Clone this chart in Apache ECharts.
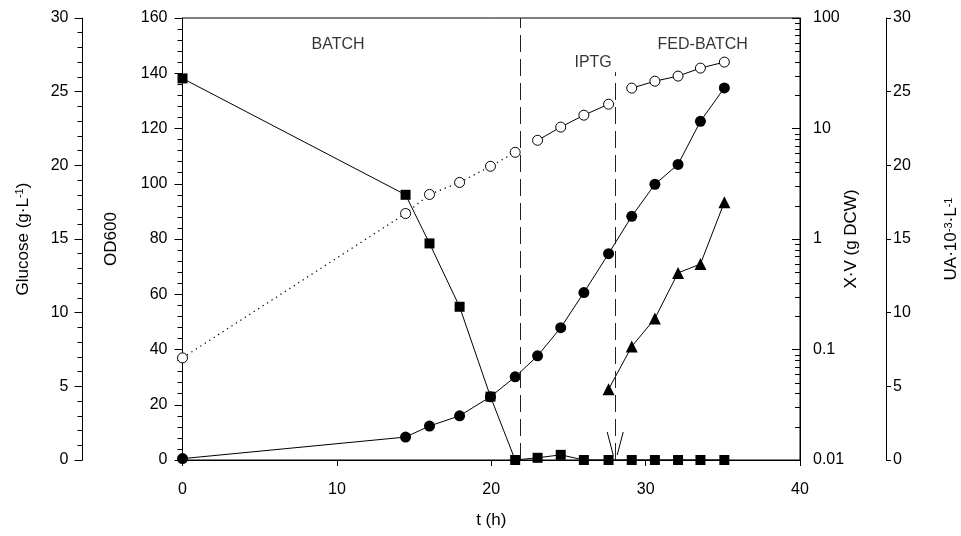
<!DOCTYPE html>
<html>
<head>
<meta charset="utf-8">
<script src="https://cdn.jsdelivr.net/npm/echarts@6/dist/echarts.min.js"></script>
<style>
  html, body { margin: 0; padding: 0; background: #fff; overflow: hidden; }
  #chart { width: 961px; height: 536px; }
</style>
</head>
<body>
<div id="chart"></div>
<script>
// Sampling times (h)
const time = [0, 14.45, 16.0, 17.95, 19.95, 21.55, 23.0, 24.5, 26.0, 27.6, 29.1, 30.6, 32.1, 33.55, 35.1];
// Residual glucose (g/L)
const glucose = [25.9, 18.0, 14.7, 10.4, 4.3, 0, 0.15, 0.35, 0, 0, 0, 0, 0, 0, 0];
// Optical density at 600 nm
const od600 = [0.5, 8.3, 12.3, 16.0, 22.9, 30.1, 37.7, 47.9, 60.6, 74.7, 88.2, 99.8, 107.0, 122.6, 134.7];
// Total biomass X·V (g DCW), log scale
const biomass = [0.084, 1.70, 2.53, 3.25, 4.55, 6.09, 7.82, 10.3, 13.2, 16.6, 23.2, 26.8, 29.8, 35.2, 39.9];
// Enzyme activity after induction (UA·10^-3·L^-1)
const uaTime = [27.6, 29.1, 30.6, 32.1, 33.55, 35.1];
const activity = [4.8, 7.7, 9.6, 12.7, 13.3, 17.5];
// Process events (h)
const batchEnd = 21.87;
const iptgTime = 28.03;
// Axis tick values
const xTicks = { min: 0, max: 40, step: 10 };
const odTicks = { min: 0, max: 160, step: 20 };
const glcTicks = { min: 0, max: 30, step: 5 };
const uaTicks = { min: 0, max: 30, step: 5 };
const logRange = { min: 0.01, max: 100 };

const FONT = '"Liberation Sans", Arial, Helvetica, sans-serif';
const BLACK = '#000';

const pairs = (xs, ys) => xs.map((x, i) => [x, ys[i]]);
const bio = pairs(time, biomass);
// biomass curve drawn in three pieces: dotted batch phase, then two solid fed-batch segments
const bioBatch = bio.slice(0, 6);
const bioFed1 = bio.slice(6, 10);
const bioFed2 = bio.slice(10);

// minor ticks 2..9 within each decade of the log axis
const logMinor = [];
for (let d = logRange.min; d < logRange.max * 0.999; d *= 10) {
  for (let k = 2; k <= 9; k++) logMinor.push([xTicks.max, +(d * k).toPrecision(3)]);
}

const labelStyle = { color: BLACK, fontSize: 16, fontFamily: FONT };
const nameStyle = {
  color: BLACK, fontSize: 17, fontFamily: FONT,
  rich: { sup: { fontSize: 11, verticalAlign: 'top', lineHeight: 10, fontFamily: FONT, color: BLACK } }
};
const axisLine = { show: true, onZero: false, lineStyle: { color: BLACK, width: 1 } };
const minorTick = { show: true, splitNumber: 5, length: 5, lineStyle: { color: BLACK, width: 1 } };

function linearY(ticks, extra) {
  return Object.assign({
    type: 'value',
    min: ticks.min, max: ticks.max, interval: ticks.step,
    nameLocation: 'middle', nameRotate: 90, nameTextStyle: nameStyle, nameMoveOverlap: false,
    axisLine: axisLine,
    axisTick: { show: true, inside: false, length: 8, lineStyle: { color: BLACK, width: 1 } },
    axisLabel: Object.assign({ margin: 14 }, labelStyle),
    splitLine: { show: false }
  }, extra);
}

const chart = echarts.init(document.getElementById('chart'), null, { renderer: 'canvas', width: 961, height: 536 });

chart.setOption({
  animation: false,
  backgroundColor: '#fff',
  textStyle: { fontFamily: FONT },
  grid: {
    left: 182.5, right: 161, top: 18, bottom: 76,
    show: true, borderColor: BLACK, borderWidth: 1,
    containLabel: false, outerBoundsMode: 'none'
  },
  xAxis: {
    type: 'value', min: xTicks.min, max: xTicks.max, interval: xTicks.step,
    name: 't (h)', nameLocation: 'middle', nameGap: 52, nameTextStyle: nameStyle, nameMoveOverlap: false,
    axisLine: axisLine,
    axisTick: { show: true, inside: false, length: 6, lineStyle: { color: BLACK } },
    axisLabel: Object.assign({ margin: 22 }, labelStyle),
    splitLine: { show: false }
  },
  yAxis: [
    linearY(odTicks, {
      name: 'OD600', position: 'left', offset: 0, nameGap: 63,
      minorTick: minorTick,
      axisLabel: Object.assign({ margin: 15 }, labelStyle)
    }),
    linearY(glcTicks, {
      name: 'Glucose (g·L{sup|-1})', position: 'left', offset: 100, nameGap: 51,
      minorTick: minorTick
    }),
    {
      type: 'log', logBase: 10, min: logRange.min, max: logRange.max,
      position: 'right', offset: 0,
      name: 'X·V (g DCW)', nameLocation: 'middle', nameRotate: 90, nameGap: 43, nameTextStyle: nameStyle, nameMoveOverlap: false,
      axisLine: axisLine,
      axisTick: { show: true, inside: true, length: 8, lineStyle: { color: BLACK, width: 1 } },
      axisLabel: Object.assign({ margin: 13, formatter: v => String(+v.toPrecision(3)) }, labelStyle),
      splitLine: { show: false }
    },
    linearY(uaTicks, {
      name: 'UA·10{sup|-3}·L{sup|-1}', position: 'right', offset: 86, nameGap: 57,
      axisTick: { show: true, inside: false, length: 5, lineStyle: { color: BLACK } },
      axisLabel: Object.assign({ margin: 7 }, labelStyle)
    })
  ],
  series: [
    {
      name: 'X·V batch', type: 'line', yAxisIndex: 2, data: bioBatch,
      symbol: 'circle', symbolSize: 10,
      itemStyle: { color: '#fff', borderColor: BLACK, borderWidth: 1 },
      lineStyle: { color: BLACK, width: 1.2, type: [1.3, 4] }, z: 3
    },
    {
      name: 'X·V fed-batch', type: 'line', yAxisIndex: 2, data: bioFed1,
      symbol: 'circle', symbolSize: 10,
      itemStyle: { color: '#fff', borderColor: BLACK, borderWidth: 1 },
      lineStyle: { color: BLACK, width: 1 }, z: 3
    },
    {
      name: 'X·V induced', type: 'line', yAxisIndex: 2, data: bioFed2,
      symbol: 'circle', symbolSize: 10,
      itemStyle: { color: '#fff', borderColor: BLACK, borderWidth: 1 },
      lineStyle: { color: BLACK, width: 1 }, z: 3
    },
    {
      name: 'OD600', type: 'line', yAxisIndex: 0, data: pairs(time, od600),
      symbol: 'circle', symbolSize: 11,
      itemStyle: { color: BLACK }, lineStyle: { color: BLACK, width: 1 }, z: 4,
      markLine: {
        silent: true, symbol: 'none', label: { show: false },
        lineStyle: { color: '#222', width: 1, type: [17, 7] },
        data: [
          [{ coord: [batchEnd, odTicks.min] }, { coord: [batchEnd, odTicks.max] }],
          [{ coord: [iptgTime, odTicks.min] }, { coord: [iptgTime, 140.4] }]
        ]
      }
    },
    {
      name: 'UA', type: 'line', yAxisIndex: 3, data: pairs(uaTime, activity),
      symbol: 'triangle', symbolSize: 12,
      itemStyle: { color: BLACK }, lineStyle: { color: BLACK, width: 1 }, z: 4
    },
    {
      name: 'Glucose', type: 'line', yAxisIndex: 1, data: pairs(time, glucose),
      symbol: 'rect', symbolSize: 10,
      itemStyle: { color: BLACK }, lineStyle: { color: BLACK, width: 1 }, z: 5
    },
    {
      // minor ticks of the logarithmic X·V axis
      name: 'log minor ticks', type: 'custom', yAxisIndex: 2, data: logMinor, clip: false, silent: true, z: 6,
      renderItem: (params, api) => {
        const p = api.coord([api.value(0), api.value(1)]);
        const y = Math.round(p[1]) + 0.5;
        return { type: 'line', shape: { x1: p[0], y1: y, x2: p[0] - 5, y2: y }, style: { stroke: BLACK, lineWidth: 1 } };
      }
    },
    {
      // open arrowhead marking the IPTG addition
      name: 'IPTG arrow', type: 'custom', yAxisIndex: 0, data: [[iptgTime, 0]], clip: false, silent: true, z: 6,
      renderItem: (params, api) => {
        const p = api.coord([api.value(0), api.value(1)]);
        return {
          type: 'group',
          children: [
            { type: 'line', shape: { x1: p[0] - 8, y1: p[1] - 28, x2: p[0] - 2, y2: p[1] - 5 }, style: { stroke: BLACK, lineWidth: 1 } },
            { type: 'line', shape: { x1: p[0] + 8, y1: p[1] - 28, x2: p[0] + 2, y2: p[1] - 5 }, style: { stroke: BLACK, lineWidth: 1 } }
          ]
        };
      }
    },
    {
      // phase annotations
      name: 'phases', type: 'scatter', yAxisIndex: 0, silent: true, symbolSize: 0, z: 7,
      data: [
        { value: [10.08, 150.3], name: 'BATCH' },
        { value: [26.6, 143.7], name: 'IPTG' },
        { value: [33.7, 150.3], name: 'FED-BATCH' }
      ],
      label: {
        show: true, position: 'inside', formatter: p => p.name,
        color: BLACK, fontSize: 16, fontFamily: FONT
      }
    }
  ]
});
</script>
</body>
</html>
